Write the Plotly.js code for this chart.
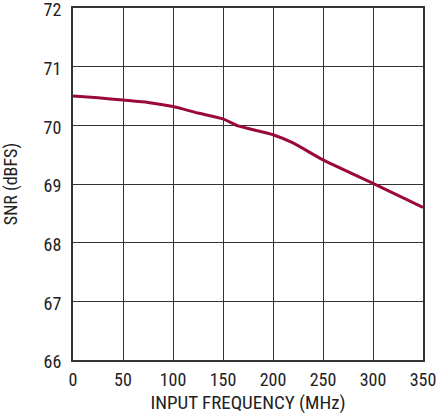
<!DOCTYPE html>
<html><head><meta charset="utf-8">
<script src="https://cdn.plot.ly/plotly-3.0.1.min.js"></script>
<style>html,body{margin:0;padding:0;background:#fff;}#chart{width:439px;height:419px;}</style>
</head><body><div id="chart"></div>
<script>
const freqMHz = [0, 25, 50, 75, 100, 125, 150, 165, 200, 220, 250, 300, 350];
const snrDBFS = [70.5, 70.47, 70.43, 70.39, 70.32, 70.21, 70.11, 69.99, 69.84, 69.7, 69.41, 69.01, 68.6];
const xTicks = [0, 50, 100, 150, 200, 250, 300, 350];
const yTicks = [66, 67, 68, 69, 70, 71, 72];

const fam = '"Roboto Condensed", "Liberation Sans Narrow", Arial, sans-serif';
const tickFont = {family: fam, size: 18, color: '#222'};
Plotly.newPlot('chart', [{
  x: freqMHz, y: snrDBFS, mode: 'lines', type: 'scatter',
  line: {color: '#9a0a36', width: 3, shape: 'spline', smoothing: 0.5},
  hoverinfo: 'skip'
}], {
  width: 439, height: 419,
  margin: {l: 73, r: 16, t: 8, b: 59},
  paper_bgcolor: '#fff', plot_bgcolor: '#fff',
  font: tickFont,
  showlegend: false,
  xaxis: {
    range: [0, 350], tickvals: xTicks, ticktext: xTicks.map(String),
    showgrid: true, gridcolor: '#333', gridwidth: 1,
    showline: true, linecolor: '#333', linewidth: 2, mirror: true,
    zeroline: false, ticks: '', ticklen: 0, ticklabelstandoff: 2,
    tickfont: tickFont, ticklabeloverflow: 'allow', automargin: false,
    title: {text: 'INPUT FREQUENCY (MHz)', font: {family: fam, size: 19, color: '#222'}, standoff: 7}
  },
  yaxis: {
    range: [66, 72], tickvals: yTicks, ticktext: yTicks.map(String),
    showgrid: true, gridcolor: '#333', gridwidth: 1,
    showline: true, linecolor: '#333', linewidth: 2, mirror: true,
    zeroline: false, ticks: '', ticklen: 0, ticklabelstandoff: 6, ticklabelshift: 2,
    tickfont: tickFont, ticklabeloverflow: 'allow', automargin: false,
    title: {text: 'SNR (dBFS)', font: {family: fam, size: 18, color: '#222'}, standoff: 22}
  }
}, {staticPlot: true, displayModeBar: false});
</script></body></html>
